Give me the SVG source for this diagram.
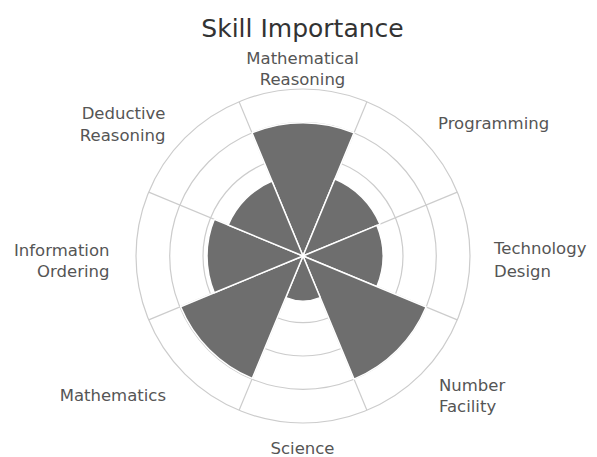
<svg xmlns="http://www.w3.org/2000/svg" width="597" height="457" viewBox="0 0 597 457">
<style>
.ring{fill:none;stroke:#cccccc;stroke-width:1.2}
.spoke{stroke:#cccccc;stroke-width:1.2}
.sector{fill:#6e6e6e;stroke:#ffffff;stroke-width:1.5;stroke-linejoin:round}
.lbl{font-family:"DejaVu Sans","Liberation Sans",sans-serif;font-size:16.5px;fill:#555555}
.title{font-family:"DejaVu Sans","Liberation Sans",sans-serif;font-size:25px;fill:#333333;text-anchor:middle}
</style>
<rect width="597" height="457" fill="#ffffff"/>
<text class="title" x="302.5" y="36.5">Skill Importance</text>
<g id="grid">
<circle class="ring" cx="303" cy="256" r="167"/>
<circle class="ring" cx="303" cy="256" r="133.3"/>
<circle class="ring" cx="303" cy="256" r="100"/>
<circle class="ring" cx="303" cy="256" r="66.7"/>
<line class="spoke" x1="366.91" y1="101.71" x2="239.09" y2="410.29"/>
<line class="spoke" x1="457.29" y1="192.09" x2="148.71" y2="319.91"/>
<line class="spoke" x1="457.29" y1="319.91" x2="148.71" y2="192.09"/>
<line class="spoke" x1="239.09" y1="101.71" x2="366.91" y2="410.29"/>
</g>
<g id="mathematical-reasoning">
<path class="sector" d="M303 256 L251.99 132.85 A133.3 133.3 0 0 1 354.01 132.85 Z"/>
<text class="lbl" text-anchor="middle" x="302.5" y="64">Mathematical</text>
<text class="lbl" text-anchor="middle" x="302.5" y="85">Reasoning</text>
</g>
<g id="programming">
<path class="sector" d="M303 256 L334.88 179.04 A83.3 83.3 0 0 1 379.96 224.12 Z"/>
<text class="lbl" x="438" y="129">Programming</text>
</g>
<g id="technology-design">
<path class="sector" d="M303 256 L376.91 225.39 A80 80 0 0 1 376.91 286.61 Z"/>
<text class="lbl" x="494" y="254">Technology</text>
<text class="lbl" x="494" y="277">Design</text>
</g>
<g id="number-facility">
<path class="sector" d="M303 256 L426.15 307.01 A133.3 133.3 0 0 1 354.01 379.15 Z"/>
<text class="lbl" x="439" y="390.5">Number</text>
<text class="lbl" x="439" y="411.5">Facility</text>
</g>
<g id="science">
<path class="sector" d="M303 256 L320.22 297.57 A45 45 0 0 1 285.78 297.57 Z"/>
<text class="lbl" text-anchor="middle" x="302.5" y="454">Science</text>
</g>
<g id="mathematics">
<path class="sector" d="M303 256 L252.29 378.41 A132.5 132.5 0 0 1 180.59 306.71 Z"/>
<text class="lbl" text-anchor="end" x="166" y="400.5">Mathematics</text>
</g>
<g id="information-ordering">
<path class="sector" d="M303 256 L214.31 292.74 A96 96 0 0 1 214.31 219.26 Z"/>
<text class="lbl" text-anchor="end" x="109.5" y="255.5">Information</text>
<text class="lbl" text-anchor="end" x="109.5" y="277">Ordering</text>
</g>
<g id="deductive-reasoning">
<path class="sector" d="M303 256 L228.17 225.0 A81 81 0 0 1 272.0 181.17 Z"/>
<text class="lbl" text-anchor="end" x="165.5" y="118.5">Deductive</text>
<text class="lbl" text-anchor="end" x="165.5" y="140.5">Reasoning</text>
</g>
</svg>
